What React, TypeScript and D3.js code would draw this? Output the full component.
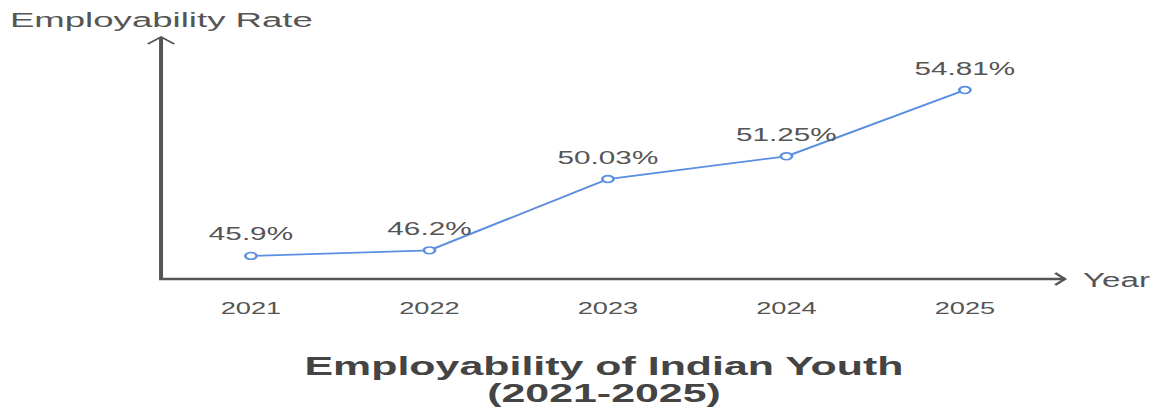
import React from "react";
import * as d3 from "d3";

const years = [2021, 2022, 2023, 2024, 2025];
const rates = [45.9, 46.2, 50.03, 51.25, 54.81];
const valueLabels = ["45.9%", "46.2%", "50.03%", "51.25%", "54.81%"];
const yearLabels = ["2021", "2022", "2023", "2024", "2025"];
const yDomain = [44.66, 57.66];

const W = 1161;
const H = 412;
const S = 1.65; // horizontal stretch of the original picture
const VW = W / S;

export default function App() {
  const x = d3.scaleLinear().domain([2021, 2025]).range([152.1, 584.8]);
  const y = d3.scaleLinear().domain(yDomain).range([279, 37]);
  const axisX = 97.6;
  const axisY = y(yDomain[0]);
  const topY = y(yDomain[1]);
  const xEnd = 645.5;

  const line = d3
    .line<number>()
    .x((_, i) => x(years[i]))
    .y((d) => y(d));

  const font = "'Liberation Sans', Arial, sans-serif";
  const axisColor = "#555";
  const blue = "#5b8fe0";

  return (
    <svg
      width={W}
      height={H}
      viewBox={`0 0 ${VW} ${H}`}
      preserveAspectRatio="none"
      style={{ position: "absolute", left: 0, top: 0, background: "#fff" }}
    >
      <text
        x={6}
        y={27}
        fontFamily={font}
        fontSize={20}
        fill="#555"
        textLength={303 / S}
        lengthAdjust="spacingAndGlyphs"
      >
        Employability Rate
      </text>

      {/* axes */}
      <path
        d={`M${axisX},${topY} L${axisX},${axisY} L${xEnd},${axisY}`}
        fill="none"
        stroke={axisColor}
        strokeWidth={2.4}
      />
      <path
        d={`M${axisX - 8},${topY + 7} L${axisX},${topY} L${axisX + 8},${topY + 7}`}
        fill="none"
        stroke={axisColor}
        strokeWidth={1.6}
      />
      <path
        d={`M${xEnd - 6},${axisY - 6} L${xEnd},${axisY} L${xEnd - 6},${axisY + 6}`}
        fill="none"
        stroke={axisColor}
        strokeWidth={1.8}
      />
      <text
        x={1083 / S}
        y={287}
        fontFamily={font}
        fontSize={20}
        fill="#555"
        textLength={67 / S}
        lengthAdjust="spacingAndGlyphs"
      >
        Year
      </text>

      {/* year tick labels */}
      {yearLabels.map((t, i) => (
        <text
          key={t}
          x={x(years[i])}
          y={314}
          textAnchor="middle"
          fontFamily={font}
          fontSize={16.5}
          fill="#555"
        >
          {t}
        </text>
      ))}

      {/* line */}
      <path d={line(rates) || ""} fill="none" stroke={blue} strokeWidth={1.8} />
      {rates.map((r, i) => (
        <circle
          key={i}
          cx={x(years[i])}
          cy={y(r)}
          r={3.4}
          fill="#fff"
          stroke={blue}
          strokeWidth={1.6}
        />
      ))}
      {rates.map((r, i) => (
        <text
          key={"l" + i}
          x={x(years[i])}
          y={y(r) - 15.5}
          textAnchor="middle"
          fontFamily={font}
          fontSize={18}
          fill="#555"
        >
          {valueLabels[i]}
        </text>
      ))}

      {/* title */}
      <text
        x={604 / S}
        y={375}
        textAnchor="middle"
        fontFamily={font}
        fontSize={26}
        fontWeight="bold"
        fill="#444"
      >
        Employability of Indian Youth
      </text>
      <text
        x={604 / S}
        y={402}
        textAnchor="middle"
        fontFamily={font}
        fontSize={26}
        fontWeight="bold"
        fill="#444"
      >
        (2021-2025)
      </text>
    </svg>
  );
}
